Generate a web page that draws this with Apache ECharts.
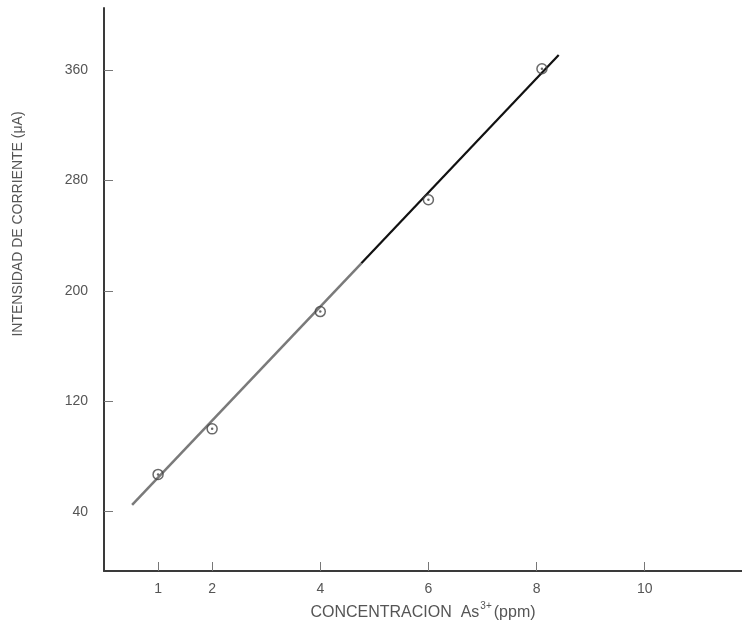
<!DOCTYPE html>
<html>
<head>
<meta charset="utf-8">
<script src="https://cdn.jsdelivr.net/npm/echarts@6/dist/echarts.min.js"></script>
<style>html,body{margin:0;padding:0;background:#fff}#c{width:742px;height:632px}</style>
</head>
<body>
<div id="c"></div>
<script>
// Data
var concentration = [1, 2, 4, 6, 8.1];
var current = [67, 100, 185, 266, 361];
// fitted calibration line (lower grey part, upper black part)
var fitLowX = [0.52, 4.76];
var fitLowY = [45, 220];
var fitHighX = [4.76, 8.41];
var fitHighY = [220, 371];
// tick labels
var xTicks = [1, 2, 4, 6, 8, 10];
var yTicks = [40, 120, 200, 280, 360];

var pts = concentration.map(function (x, i) { return [x, current[i]]; });
var low = fitLowX.map(function (x, i) { return [x, fitLowY[i]]; });
var high = fitHighX.map(function (x, i) { return [x, fitHighY[i]]; });

var font = 'Liberation Sans';
var chart = echarts.init(document.getElementById('c'));
chart.setOption({
  animation: false,
  backgroundColor: '#fff',
  grid: { left: 104, right: 0, top: 8, bottom: 61, containLabel: false },
  xAxis: {
    type: 'value', min: 0, max: 11.8,
    axisLine: { onZero: false, lineStyle: { color: '#3a3a3a', width: 2 } },
    axisTick: { show: true, inside: true, length: 9, customValues: xTicks, lineStyle: { color: '#777', width: 1 } },
    axisLabel: { customValues: xTicks, margin: 11, color: '#555', fontSize: 14, fontFamily: font },
    splitLine: { show: false },
    name: '{a|CONCENTRACION  As}{s|3+}{a|(ppm)}',
    nameLocation: 'middle', nameGap: 18,
    nameTextStyle: {
      rich: {
        a: { fontSize: 16, color: '#555', fontFamily: font, verticalAlign: 'bottom' },
        s: { fontSize: 10, color: '#555', fontFamily: font, verticalAlign: 'top', padding: [0, 2, 10, 1] }
      }
    }
  },
  yAxis: {
    type: 'value', min: -3, max: 405,
    axisLine: { onZero: false, lineStyle: { color: '#3a3a3a', width: 2 } },
    axisTick: { show: true, inside: true, length: 9, customValues: yTicks, lineStyle: { color: '#777', width: 1 } },
    axisLabel: { customValues: yTicks, margin: 16, color: '#555', fontSize: 14, fontFamily: font },
    splitLine: { show: false }
  },
  graphic: [{
    type: 'text', x: 18, y: 224, rotation: Math.PI / 2,
    style: { text: 'INTENSIDAD DE CORRIENTE (μA)', fill: '#555', fontSize: 14, fontFamily: font, align: 'center', verticalAlign: 'middle' }
  }],
  series: [
    { type: 'line', data: low, symbol: 'none', lineStyle: { color: '#7a7a7a', width: 2.5 }, z: 2 },
    { type: 'line', data: high, symbol: 'none', lineStyle: { color: '#111', width: 2.2 }, z: 2 },
    { type: 'scatter', data: pts, symbol: 'circle', symbolSize: 10,
      itemStyle: { color: 'rgba(255,255,255,0)', borderColor: '#444', borderWidth: 1.5 }, z: 3 },
    { type: 'scatter', data: pts, symbol: 'circle', symbolSize: 2.5,
      itemStyle: { color: '#444' }, z: 4 }
  ]
});
</script>
</body>
</html>
